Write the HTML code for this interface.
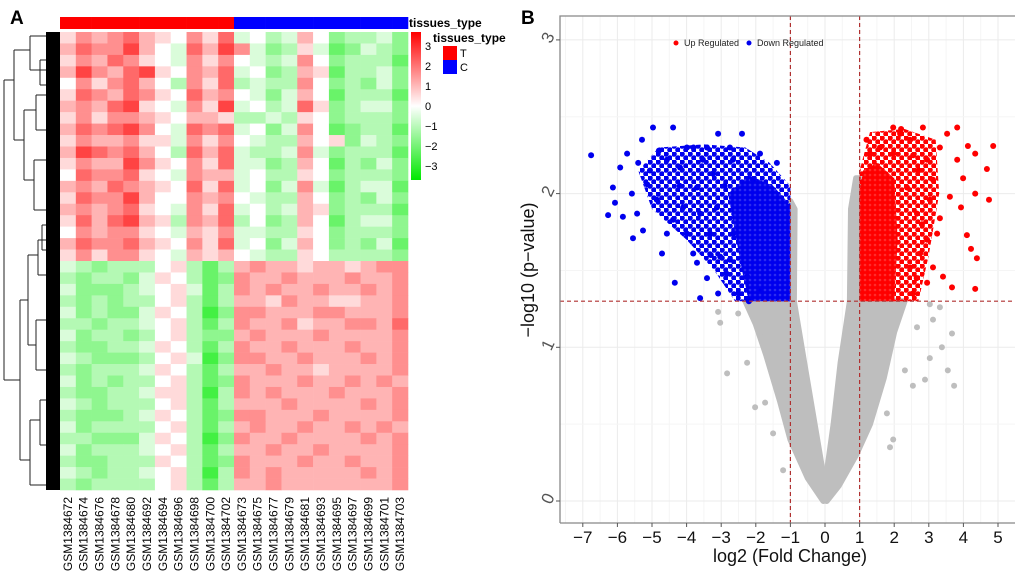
<!DOCTYPE html>
<html><head><meta charset="utf-8"><style>html,body{margin:0;padding:0;background:#fff}svg{display:block;font-family:"Liberation Sans",Arial,sans-serif}</style></head>
<body>
<svg id="fig" width="1020" height="573" viewBox="0 0 1020 573">
  <defs>
    <pattern id="blueDenseP" width="5" height="5" patternUnits="userSpaceOnUse"><rect width="5" height="5" fill="#3a3af0"/><circle cx="2.5" cy="2.5" r="2.6" fill="#0000ee"/></pattern>
    <pattern id="blueSparseP" width="8" height="8" patternUnits="userSpaceOnUse"><circle cx="2" cy="2" r="2.8" fill="#0000ee"/><circle cx="6" cy="6" r="2.8" fill="#0000ee"/></pattern>
    <pattern id="redDenseP" width="5" height="5" patternUnits="userSpaceOnUse"><rect width="5" height="5" fill="#ff3a3a"/><circle cx="2.5" cy="2.5" r="2.6" fill="#ff0000"/></pattern>
    <pattern id="redSparseP" width="8" height="8" patternUnits="userSpaceOnUse"><circle cx="2" cy="2" r="2.8" fill="#ff0000"/><circle cx="6" cy="6" r="2.8" fill="#ff0000"/></pattern>
  </defs>
  <text x="10" y="24" font-size="19" font-weight="bold">A</text>
  <text x="521" y="24" font-size="19" font-weight="bold">B</text>
  <g id="heat"></g>
  <g id="dendro">
    <rect x="46" y="32" width="14" height="458" fill="#000"/>
    <g stroke="#222" stroke-width="1" fill="none">
      <path d="M4,80 V380 M4,80 H14 M4,380 H20 M14,50 V140 M14,50 H30 M14,140 H24 M24,110 V180 M24,110 H36 M24,180 H34 M30,36 V70 M30,36 H46 M30,70 H46 M36,95 V130 M36,95 H46 M36,130 H46 M34,160 V210 M34,160 H46 M34,210 H46 M20,300 V460 M20,300 H28 M20,460 H30 M28,255 V345 M28,255 H38 M28,345 H36 M38,240 V275 M38,240 H46 M38,275 H46 M36,320 V370 M36,320 H46 M36,370 H46 M30,420 V485 M30,420 H40 M30,485 H46 M40,400 V445 M40,400 H46 M40,445 H46 M40,60 V85 M40,60 H46 M40,85 H46 M42,225 V250 M42,225 H46 M42,250 H46"/>
    </g>
  </g>
  <g id="heatLegend"></g>
  <g id="volcano"></g>
</svg>
<script>
// ---------- Heatmap data ----------
const sampleLabels = ["GSM1384672","GSM1384674","GSM1384676","GSM1384678","GSM1384680","GSM1384692","GSM1384694","GSM1384696","GSM1384698","GSM1384700","GSM1384702","GSM1384673","GSM1384675","GSM1384677","GSM1384679","GSM1384681","GSM1384693","GSM1384695","GSM1384697","GSM1384699","GSM1384701","GSM1384703"];
const sampleGroups = ["T","T","T","T","T","T","T","T","T","T","T","C","C","C","C","C","C","C","C","C","C","C"];
// a..m => -3..3 step 0.5
const heatRows = [
"hjijkihgjhkfgefigdeefd","ikjjligfkiljfdehfcdfed","hjikjhgfjhjgfefjgdeeec","iljiklhgjikfgdeihceefd",
"gjhjkigejhkefeejgdedfd","hkjikjhgkijgfdfigceeec","ijiklhgfjhlfgefkhdeffd","hjhjjihgiiheefehgdeeed",
"ikjkljgfkjkfgdfjgcdeec","hjiijhhfjhjgfeeighdfed","ilkjkigekikfeefjfdeeec","hjiiljhgjhkffdeigcedfd",
"gkjjkhgfjiifgeehgdeeed","ijikjihgkhkfgdfjfceffc","hkjjliggjijgfeeigdedfd","ijijkhgfjhkfgefihdeeec",
"hkiklihejikegdeigceffd","gjijjhgfihjffeehgdeeed","ikjjkihgjhkfgdfigdedfc","hjhjjhgfihigfeehgeeeed",
"fedeeegheceijiihiihijj","edeedfhgecdjiijiiijiij","fdddefghfcejijiijiijij","ededeegheceiihjiihhiij",
"fdeddfhgebdjjiiijjiiij","eedeefghecejiijhiijjik","fdeedegheddijiiijiiiij","eddeefhgecejiijiiijiij",
"fedddeghfbdjjiijiiijij","edeeefhgeceiijiihiiiij","fdedeeghecdjiiijiijiji","eddeefhhebejijiiijiiij",
"fedeeegheceiiijiiiijij","edddefhgecdjjiiijiiiij","fdeeeegheceijiijiijiji","eedddfhgebdjiijiiiijij",
"fdeeefgheceiijiijiiiij","eddeeehgecdjiiijiijiij","fedeefghebejijiiiiijij","edeeeegheceiijiiiiiiij"];
const legendTicks = [3,2,1,0,-1,-2,-3];

// ---------- Volcano data ----------
const xTicks = [-7,-6,-5,-4,-3,-2,-1,0,1,2,3,4,5];
const yTicks = [0,1,2,3];
const fcCut = [-1,1];
const pCut = 1.3;
const grayLeftArm = [[-0.05,0],[-0.5,0.15],[-1.0,0.4],[-1.3,0.65],[-1.7,0.95],[-2.0,1.15],[-2.3,1.3],[-1.0,1.3],[-1.0,1.95],[-0.88,1.9],[-0.9,1.3],[-0.6,0.9],[-0.3,0.5],[0,0.1]];
const grayRightArm = [[0,0.1],[0.25,0.5],[0.45,0.9],[0.72,1.3],[0.75,1.9],[0.9,2.1],[1.0,2.1],[1.0,1.3],[2.3,1.3],[2.0,1.1],[1.7,0.8],[1.3,0.5],[0.9,0.3],[0.4,0.1],[0.05,0]];
const blueSpread = [[-1,1.3],[-2.6,1.3],[-3.2,1.5],[-4.0,1.7],[-5.0,1.9],[-5.4,2.15],[-4.8,2.3],[-3.5,2.32],[-2.3,2.3],[-1.6,2.2],[-1,2.05]];
const blueDense = [[-1,1.3],[-2.2,1.3],[-2.4,1.5],[-2.6,1.75],[-2.8,2.0],[-2.2,2.12],[-1.5,2.05],[-1.1,1.95],[-1,1.9]];
const redSpread = [[1,1.3],[2.7,1.3],[3.0,1.6],[3.3,2.0],[3.2,2.35],[2.3,2.42],[1.3,2.4],[1,2.15]];
const redDense = [[1,1.3],[2.0,1.3],[2.1,1.7],[2.0,2.1],[1.5,2.2],[1.1,2.15],[1,2.0]];
const grayPoints = [[-3.09,1.23],[-3.03,1.16],[-2.51,1.22],[-2.83,0.83],[-2.25,0.9],[-2.02,0.61],[-1.73,0.64],[-1.5,0.44],[-1.21,0.2],[3.03,1.28],[3.32,1.26],[3.12,1.18],[3.67,1.09],[3.38,1.0],[3.03,0.93],[3.55,0.85],[3.73,0.75],[2.89,0.79],[2.54,0.75],[1.97,0.4],[1.88,0.35],[2.66,1.13],[2.31,0.85],[1.79,0.57]];
const bluePoints = [[-6.76,2.25],[-4.97,2.43],[-4.39,2.43],[-3.09,2.39],[-2.4,2.39],[-5.29,2.35],[-5.92,2.17],[-6.13,2.04],[-6.27,1.86],[-6.07,1.94],[-5.55,1.71],[-5.26,1.76],[-4.71,1.61],[-4.34,1.42],[-3.61,1.32],[-3.09,1.35],[-3.41,1.45],[-5.72,2.26],[-5.14,2.06],[-4.86,1.96],[-4.39,1.83],[-3.99,1.74],[-3.81,1.61],[-4.57,2.22],[-3.99,2.30],[-3.41,2.30],[-2.75,2.30],[-1.88,2.26],[-1.39,2.2],[-3.24,2.13],[-3.7,2.04],[-3.12,1.91],[-2.66,1.74],[-2.75,1.57],[-2.25,1.46],[-1.88,1.37],[-5.43,1.87],[-5.84,1.85],[-5.58,2.0],[-5.06,2.15],[-4.19,2.17],[-3.53,2.22],[-2.66,2.22],[-2.08,2.09],[-3.61,1.87],[-4.1,1.91],[-3.32,1.74],[-4.57,1.74],[-3.7,1.55],[-3.03,1.59],[-4.8,2.28],[-5.4,2.2],[-4.2,2.05],[-3.8,2.3],[-2.9,2.05],[-2.2,1.3],[-2.5,1.35],[-2.85,1.48],[-3.3,1.6]];
const redPoints = [[1.97,2.43],[2.83,2.43],[3.82,2.43],[3.53,2.39],[4.13,2.31],[4.86,2.31],[4.34,2.26],[4.68,2.16],[3.99,2.10],[4.34,2.0],[4.74,1.96],[3.93,1.91],[3.32,1.84],[4.1,1.73],[4.22,1.64],[4.39,1.58],[3.41,1.46],[3.67,1.39],[4.34,1.38],[2.95,1.42],[3.12,1.52],[3.82,2.22],[3.61,1.98],[3.12,2.09],[2.95,2.22],[3.32,2.30],[2.46,2.35],[2.17,2.39],[3.24,1.74],[2.75,1.61],[2.54,1.35],[2.66,1.87],[3.03,1.96],[2.95,1.70],[2.46,1.52],[2.37,2.04],[1.97,2.26],[1.59,2.30],[1.3,2.26],[2.7,2.15],[2.8,1.8],[2.65,1.45],[2.55,2.25],[1.2,2.35],[2.2,2.42]];

const NS = "http://www.w3.org/2000/svg";
function mk(tag, attrs, parent){const e=document.createElementNS(NS,tag);for(const k in attrs)e.setAttribute(k,attrs[k]);parent.appendChild(e);return e;}

// ---------- Heatmap ----------
const H = {x0:60, x1:408, y0:32, y1:490};
const heat = document.getElementById('heat');
const nCols = sampleLabels.length, nRows = heatRows.length;
const cw = (H.x1-H.x0)/nCols, rh = (H.y1-H.y0)/nRows;
function hcol(v){const t=Math.min(Math.abs(v)/3.4,1);const c=Math.round(255*(1-t));return v>=0?`rgb(255,${c},${c})`:`rgb(${c},${Math.round(255-20*t)},${c})`;}
function valOf(ch){return (ch.charCodeAt(0)-97)*0.5-3;}
heatRows.forEach((row,r)=>{
  for(let c=0;c<nCols;c++){
    const cell=mk('rect',{x:(H.x0+c*cw).toFixed(2),y:(H.y0+r*rh).toFixed(2),width:(cw+0.3).toFixed(2),height:(rh+0.3).toFixed(2),fill:hcol(valOf(row[c]))},heat);
    
    
  }
});
sampleGroups.forEach((g,c)=>{
  const b=mk('rect',{x:(H.x0+c*cw).toFixed(2),y:17,width:(cw+0.3).toFixed(2),height:12,fill:g==="T"?"#ff0000":"#0000ff"},heat);
  
  
});
sampleLabels.forEach((s,c)=>{
  const cx=H.x0+(c+0.5)*cw+4;
  const t=mk('text',{x:0,y:0,transform:`translate(${cx.toFixed(1)},497) rotate(-90)`,'text-anchor':'end','font-size':12,fill:'#000'},heat);
  t.textContent=s;
  
  
});
const hl=document.getElementById('heatLegend');
const tt=mk('text',{x:409,y:27,'font-size':12,'font-weight':'bold'},hl);tt.textContent='tissues_type';


const defs=mk('defs',{},hl);
const lg=mk('linearGradient',{id:'cg',x1:0,y1:0,x2:0,y2:1},defs);
mk('stop',{offset:'0',  'stop-color':'#ff0000'},lg);
mk('stop',{offset:'0.5','stop-color':'#ffffff'},lg);
mk('stop',{offset:'1',  'stop-color':'#00e800'},lg);
const cb=mk('rect',{x:411,y:32,width:10,height:148,fill:'url(#cg)'},hl);


legendTicks.forEach(v=>{
  const y=106 - v*20;
  const t=mk('text',{x:425,y:y+4,'font-size':11},hl);t.textContent=v<0?'\u2212'+(-v):String(v);
  
  
});
const t2=mk('text',{x:433,y:42,'font-size':12,'font-weight':'bold'},hl);t2.textContent='tissues_type';


[['T','#ff0000',46],['C','#0000ff',60]].forEach(([k,col,y])=>{
  const r=mk('rect',{x:443,y:y,width:14,height:14,fill:col},hl);
  
  
  const t=mk('text',{x:460,y:y+11,'font-size':11},hl);t.textContent=k;
  
  
});

// ---------- Volcano ----------
const V={l:560,r:1015,t:16,b:523};
const X=v=>825+v*34.6, Y=v=>501-v*153.7;
const vg=document.getElementById('volcano');
const vdefs=mk('defs',{},vg);
const cp=mk('clipPath',{id:'vclip'},vdefs);mk('rect',{x:V.l,y:V.t,width:V.r-V.l,height:V.b-V.t},cp);
const grid=mk('g',{},vg);


for(let v=-7.5;v<=5.5;v+=0.5){const x=X(v);if(x<V.l||x>V.r)continue;mk('line',{x1:x,x2:x,y1:V.t,y2:V.b,stroke:Number.isInteger(v)?'#ebebeb':'#f5f5f5','stroke-width':1},grid);}
for(let v=0;v<=3.2;v+=0.5){mk('line',{x1:V.l,x2:V.r,y1:Y(v),y2:Y(v),stroke:Number.isInteger(v)?'#ebebeb':'#f5f5f5','stroke-width':1},grid);}
const pts=mk('g',{'clip-path':'url(#vclip)'},vg);
function poly(arr,fill,name,stroke){const p=mk('polygon',{points:arr.map(d=>X(d[0]).toFixed(1)+','+Y(d[1]).toFixed(1)).join(' '),fill:fill,stroke:stroke||'none','stroke-width':stroke?6:0,'stroke-linejoin':'round'},pts);}
function dots(arr,fill,name){arr.forEach(d=>{const c=mk('circle',{cx:X(d[0]).toFixed(1),cy:Y(d[1]).toFixed(1),r:3,fill:fill},pts);});}
poly(grayLeftArm,'#bebebe','not-significant-region-left','#bebebe');
poly(grayRightArm,'#bebebe','not-significant-region-right','#bebebe');
dots(grayPoints,'#bebebe','not-significant-point');
poly(blueSpread,'url(#blueSparseP)','down-regulated-spread-region');
poly(blueDense,'url(#blueDenseP)','down-regulated-dense-region');
poly(redSpread,'url(#redSparseP)','up-regulated-spread-region');
poly(redDense,'url(#redDenseP)','up-regulated-dense-region');
dots(bluePoints,'#0000ee','down-regulated-point');
dots(redPoints,'#ff0000','up-regulated-point');
fcCut.forEach(v=>{const l=mk('line',{x1:X(v),x2:X(v),y1:V.t,y2:V.b,stroke:'#b03030','stroke-width':1.2,'stroke-dasharray':'4,3'},vg);});
const hl2=mk('line',{x1:V.l,x2:V.r,y1:Y(pCut),y2:Y(pCut),stroke:'#b03030','stroke-width':1.2,'stroke-dasharray':'4,3'},vg);


const frame=mk('path',{d:`M${V.l},${V.b} V${V.t} H${V.r} M${V.l},${V.b} H${V.r}`,stroke:'#888','stroke-width':1.3,fill:'none'},vg);


xTicks.forEach(v=>{
  mk('line',{x1:X(v),x2:X(v),y1:V.b,y2:V.b+4,stroke:'#555'},vg);
  const t=mk('text',{x:X(v),y:543,'text-anchor':'middle','font-size':17,fill:'#111'},vg);t.textContent=v<0?'\u2212'+(-v):String(v);
  
  
});
yTicks.forEach(v=>{
  mk('line',{x1:V.l-4,x2:V.l,y1:Y(v),y2:Y(v),stroke:'#555'},vg);
  const t=mk('text',{x:0,y:0,transform:`translate(553,${Y(v)}) rotate(-65)`,'text-anchor':'middle','font-size':17,fill:'#555'},vg);t.textContent=String(v);
  
  
});
const xt=mk('text',{x:790,y:562,'text-anchor':'middle','font-size':18,fill:'#111'},vg);xt.textContent='log2 (Fold Change)';


const yt=mk('text',{x:0,y:0,transform:'translate(534,270) rotate(-90)','text-anchor':'middle','font-size':18,fill:'#111'},vg);yt.textContent='\u2212log10 (p\u2212value)';


[['Up Regulated','#ff0000',676],['Down Regulated','#0000ee',749]].forEach(([lab,col,x])=>{
  const c=mk('circle',{cx:x,cy:43,r:2.5,fill:col},vg);
  
  
  const t=mk('text',{x:x+8,y:46,'font-size':9,fill:'#222'},vg);t.textContent=lab;
  
  
});
</script>
</body></html>
